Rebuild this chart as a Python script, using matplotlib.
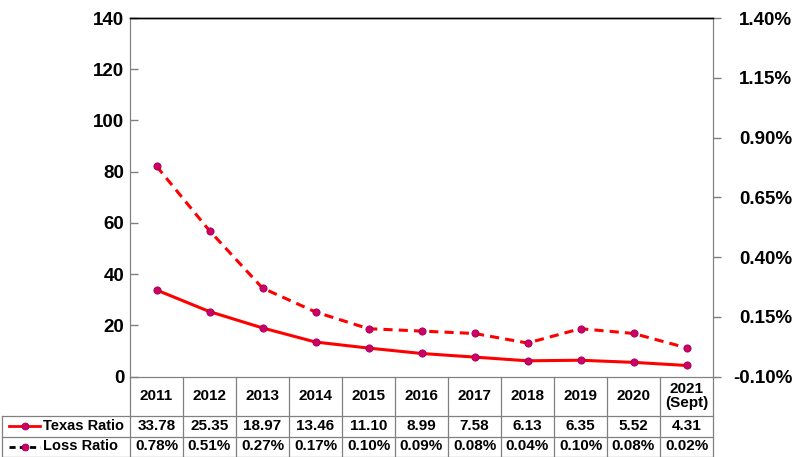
import matplotlib
matplotlib.use("Agg")
import matplotlib.pyplot as plt
from matplotlib.lines import Line2D

plt.rcParams['font.family'] = ['Liberation Sans', 'DejaVu Sans']
plt.rcParams['font.weight'] = 'bold'

years = ["2011", "2012", "2013", "2014", "2015", "2016", "2017", "2018", "2019", "2020", "2021\n(Sept)"]
texas_ratio = [33.78, 25.35, 18.97, 13.46, 11.10, 8.99, 7.58, 6.13, 6.35, 5.52, 4.31]
loss_ratio = [0.78, 0.51, 0.27, 0.17, 0.10, 0.09, 0.08, 0.04, 0.10, 0.08, 0.02]
left_ticks = [0, 20, 40, 60, 80, 100, 120, 140]
right_ticks = [-0.10, 0.15, 0.40, 0.65, 0.90, 1.15, 1.40]

W, H = 793, 457
fig = plt.figure(figsize=(W / 100, H / 100), dpi=100)
L, R, T, B = 130, 713, 18, 376.5
ax = fig.add_axes([L / W, 1 - B / H, (R - L) / W, (B - T) / H])
ax2 = ax.twinx()

line_red = '#FF0000'
mk = '#CC0066'
mke = '#A3004F'
x = list(range(len(years)))

ax.plot(x, texas_ratio, color=line_red, lw=2.2, marker='o', ms=5.2,
        mfc=mk, mec=mke, mew=0.6, zorder=3)
ax2.plot(x, loss_ratio, color=line_red, lw=2.2, ls=(0, (3, 2)), marker='o', ms=5.2,
         mfc=mk, mec=mke, mew=0.6, zorder=3)

ax.set_xlim(-0.5, len(years) - 0.5)
ax.set_ylim(0, 140)
ax.set_yticks(left_ticks)
ax2.set_ylim(-0.10, 1.40)
ax2.set_yticks(right_ticks)
ax2.set_yticklabels([f"{v:.2f}%" for v in right_ticks])
ax.set_xticks([])

gray = '#808080'
for a in (ax, ax2):
    a.spines['top'].set_color('black')
    a.spines['top'].set_linewidth(1.0)
    a.spines['left'].set_color(gray)
    a.spines['right'].set_color(gray)
    a.spines['bottom'].set_color(gray)
ax.tick_params(axis='y', colors=gray, length=6, width=1, labelsize=13.5, pad=4, direction='in')
ax2.tick_params(axis='y', colors=gray, length=6, width=1, labelsize=13.5, pad=51, direction='out')
for a in (ax, ax2):
    for lab in a.get_yticklabels():
        lab.set_color('black')
        lab.set_fontweight('bold')
for lab in ax2.get_yticklabels():
    lab.set_horizontalalignment('right')

# ---- data table below ----
axw = R - L
axh = B - T
def ya(py):
    return (B - py) / axh
def xa(px):
    return (px - L) / axw

hdr_bot, r1_bot, r2_bot = 415.5, 436.5, 456.5
leg_left = 1.5
lc = gray
lw = 0.9
tr = ax.transAxes
n = len(years)
for py in (hdr_bot, r1_bot, r2_bot):
    ax.add_line(Line2D([xa(leg_left), 1], [ya(py), ya(py)], transform=tr, color=lc, lw=lw, clip_on=False))
for i in range(n + 1):
    xx = i / n
    ax.add_line(Line2D([xx, xx], [0, ya(r2_bot)], transform=tr, color=lc, lw=lw, clip_on=False))
ax.add_line(Line2D([xa(leg_left), xa(leg_left)], [ya(hdr_bot), ya(r2_bot)], transform=tr,
                   color=lc, lw=lw, clip_on=False))

fs = 11
for i, yr in enumerate(years):
    cx = (i + 0.5) / n
    ax.text(cx, ya((B + hdr_bot) / 2), yr, transform=tr, ha='center', va='center',
            fontsize=fs, fontweight='bold', linespacing=1.05)
    ax.text(cx, ya((hdr_bot + r1_bot) / 2), f"{texas_ratio[i]:.2f}", transform=tr,
            ha='center', va='center', fontsize=fs, fontweight='bold')
    ax.text(cx, ya((r1_bot + r2_bot) / 2), f"{loss_ratio[i]:.2f}%", transform=tr,
            ha='center', va='center', fontsize=fs, fontweight='bold')

y1 = ya((hdr_bot + r1_bot) / 2)
y2 = ya((r1_bot + r2_bot) / 2)
ax.add_line(Line2D([xa(9), xa(40)], [y1, y1], transform=tr, color=line_red, lw=2, clip_on=False))
ax.add_line(Line2D([xa(25)], [y1], transform=tr, marker='o', ms=5, mfc=mk, mec=mke, mew=0.6, clip_on=False))
ax.add_line(Line2D([xa(9), xa(40)], [y2, y2], transform=tr, color='black', lw=2,
                   ls=(0, (2.2, 1.5)), clip_on=False))
ax.add_line(Line2D([xa(25)], [y2], transform=tr, marker='o', ms=5, mfc=mk, mec=mke, mew=0.6, clip_on=False))
ax.text(xa(43), y1, "Texas Ratio", transform=tr, ha='left', va='center', fontsize=10.5, fontweight='bold')
ax.text(xa(43), y2, "Loss Ratio", transform=tr, ha='left', va='center', fontsize=10.5, fontweight='bold')

fig.savefig("out.png", dpi=100)
